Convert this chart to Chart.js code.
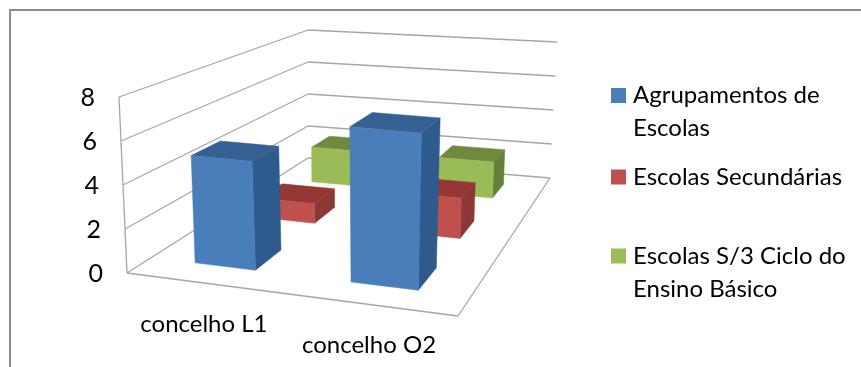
<!DOCTYPE html>
<html>
<head>
<meta charset="utf-8">
<script src="https://cdn.jsdelivr.net/npm/chart.js@4/dist/chart.umd.js"></script>
<style>
  html, body { margin: 0; padding: 0; background: #fff; }
  #wrap { position: relative; width: 861px; height: 367px; }
</style>
</head>
<body>
<div id="wrap"><canvas id="schoolsChart" width="861" height="367"></canvas></div>
<script>
const categories = ["concelho L1", "concelho O2"];
const seriesNames = ["Agrupamentos de Escolas", "Escolas Secundárias", "Escolas S/3 Ciclo do Ensino Básico"];
const agrupamentos = [5, 7];
const secundarias = [1, 2];
const semCiclo = [2, 2];
const yTickStep = 2;
const yMax = 8;

// front, top and side shade per series
const faceColors = [
  ["#4A7EBB", "#376092", "#2F5A8E"],
  ["#C0504D", "#953735", "#8C3836"],
  ["#9BBB59", "#71893F", "#64803A"]
];
const legendLines = [["Agrupamentos de", "Escolas"], ["Escolas Secundárias"], ["Escolas S/3 Ciclo do", "Ensino Básico"]];
const legendRows = [95.5, 177, 256];

// the 3D box: floor corners and the same corners at the top value
const floorBox = { fl: [127, 273], fr: [458, 316], br: [550, 178], bl: [308, 158] };
const topBox = { fl: [119, 97], fr: [466, 128], br: [557, 42], bl: [308, 30] };
const barDepth = 0.4; // share of a depth row taken by the bar

function makeHomography(q) {
  const dx1 = q.fr[0] - q.br[0], dx2 = q.bl[0] - q.br[0], sx = q.fl[0] - q.fr[0] + q.br[0] - q.bl[0];
  const dy1 = q.fr[1] - q.br[1], dy2 = q.bl[1] - q.br[1], sy = q.fl[1] - q.fr[1] + q.br[1] - q.bl[1];
  const den = dx1 * dy2 - dx2 * dy1;
  const g = (sx * dy2 - dx2 * sy) / den;
  const h = (dx1 * sy - sx * dy1) / den;
  return (u, v) => {
    const w = g * u + h * v + 1;
    return [
      ((q.fr[0] - q.fl[0] + g * q.fr[0]) * u + (q.bl[0] - q.fl[0] + h * q.bl[0]) * v + q.fl[0]) / w,
      ((q.fr[1] - q.fl[1] + g * q.fr[1]) * u + (q.bl[1] - q.fl[1] + h * q.bl[1]) * v + q.fl[1]) / w
    ];
  };
}
const floorAt = makeHomography(floorBox);
const topAt = makeHomography(topBox);

// u across categories, v in depth, t as share of the y range
function project(u, v, t) {
  const a = floorAt(u, v), b = topAt(u, v);
  return [a[0] + (b[0] - a[0]) * t, a[1] + (b[1] - a[1]) * t];
}

function poly(ctx, pts, color) {
  ctx.beginPath();
  pts.forEach((p, i) => i ? ctx.lineTo(p[0], p[1]) : ctx.moveTo(p[0], p[1]));
  ctx.closePath();
  ctx.fillStyle = color;
  ctx.fill();
  ctx.strokeStyle = color;
  ctx.lineWidth = 0.5;
  ctx.stroke();
}

function line(ctx, a, b) {
  ctx.beginPath();
  ctx.moveTo(a[0], a[1]);
  ctx.lineTo(b[0], b[1]);
  ctx.stroke();
}

// same layout as a bar chart, but each bar is drawn as a box in the projected room
class Bar3DController extends Chart.BarController {
  draw() {
    const ctx = this.chart.ctx;
    const xs = this.chart.scales.x;
    const ys = this.chart.scales.y;
    const row = this.index;
    const colors = faceColors[row];
    const rows = seriesNames.length;
    const v0 = (row + 0.5 - barDepth / 2) / rows;
    const v1 = (row + 0.5 + barDepth / 2) / rows;
    ctx.save();
    this._cachedMeta.data.forEach(bar => {
      const u0 = (bar.x - bar.width / 2 - xs.left) / xs.width;
      const u1 = (bar.x + bar.width / 2 - xs.left) / xs.width;
      const t = (ys.bottom - bar.y) / ys.height;
      poly(ctx, [project(u1, v0, 0), project(u1, v1, 0), project(u1, v1, t), project(u1, v0, t)], colors[2]);
      poly(ctx, [project(u0, v0, t), project(u1, v0, t), project(u1, v1, t), project(u0, v1, t)], colors[1]);
      poly(ctx, [project(u0, v0, 0), project(u1, v0, 0), project(u1, v0, t), project(u0, v0, t)], colors[0]);
    });
    ctx.restore();
  }
}
Bar3DController.id = "bar3d";
Bar3DController.defaults = Chart.BarController.defaults;
Bar3DController.overrides = Chart.BarController.overrides;

const wallsPlugin = {
  id: "walls",
  beforeDatasetsDraw(chart) {
    const ctx = chart.ctx;
    const ys = chart.scales.y;
    ctx.save();
    ctx.strokeStyle = "#A6A6A6";
    ctx.lineWidth = 1.3;
    ys.ticks.forEach(tick => {
      const t = (ys.bottom - ys.getPixelForValue(tick.value)) / ys.height;
      line(ctx, project(0, 0, t), project(0, 1, t));
      line(ctx, project(0, 1, t), project(1, 1, t));
    });
    line(ctx, project(0, 0, 0), project(0, 0, 1));
    line(ctx, project(0, 0, 0), project(1, 0, 0));
    line(ctx, project(1, 0, 0), project(1, 1, 0));
    ctx.restore();
  },
  afterDatasetsDraw(chart) {
    const ctx = chart.ctx;
    const xs = chart.scales.x;
    const ys = chart.scales.y;
    ctx.save();
    ctx.fillStyle = "#000";
    ctx.textBaseline = "middle";

    // value labels sit along the slanted front edge
    ctx.font = "25px Lato";
    ctx.textAlign = "right";
    ys.ticks.forEach(tick => {
      const t = (ys.bottom - ys.getPixelForValue(tick.value)) / ys.height;
      const p = project(0, 0, t);
      ctx.fillText(tick.label, p[0] - 24, p[1] + 1);
    });

    // category labels hang below the front floor edge
    ctx.font = "24px Lato";
    ctx.textAlign = "center";
    xs.getLabels().forEach((label, i) => {
      const p = project((xs.getPixelForTick(i) - xs.left) / xs.width, 0, 0);
      ctx.fillText(label, p[0] + 1, p[1] + 41);
    });

    // legend
    ctx.textAlign = "left";
    legendLines.forEach((lines, i) => {
      ctx.fillStyle = faceColors[i][0];
      ctx.fillRect(611, legendRows[i] - 7.5, 15, 15);
      ctx.fillStyle = "#000";
      lines.forEach((text, j) => ctx.fillText(text, 633, legendRows[i] + j * 33));
    });

    // chart frame, top and left edges only
    ctx.fillStyle = "#8C8C8C";
    ctx.fillRect(9, 9, 852, 2);
    ctx.fillRect(9, 9, 2, 358);
    ctx.restore();
  }
};

Chart.register(Bar3DController);

new Chart(document.getElementById("schoolsChart").getContext("2d"), {
  type: "bar3d",
  data: {
    labels: categories,
    datasets: [
      { label: seriesNames[0], data: agrupamentos, clip: false },
      { label: seriesNames[1], data: secundarias, clip: false },
      { label: seriesNames[2], data: semCiclo, clip: false }
    ]
  },
  options: {
    responsive: false,
    animation: false,
    layout: { padding: { left: 127, right: 403, top: 97, bottom: 94 } },
    plugins: { legend: { display: false }, tooltip: { enabled: false } },
    scales: {
      x: { type: "category", display: false, offset: true },
      y: { type: "linear", display: false, min: 0, max: yMax, ticks: { stepSize: yTickStep } }
    },
    datasets: { bar3d: { grouped: false, categoryPercentage: 1, barPercentage: 0.4 } }
  },
  plugins: [wallsPlugin]
});
</script>
</body>
</html>
